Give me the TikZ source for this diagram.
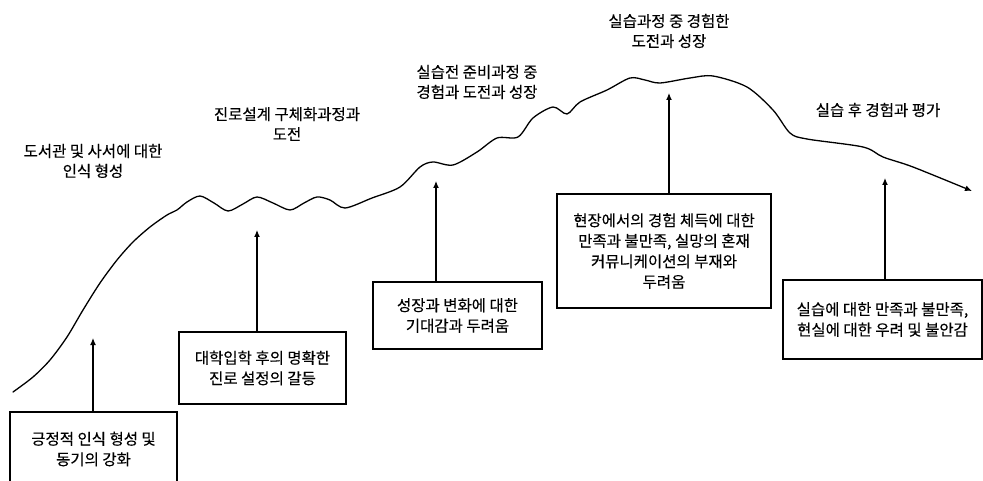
\documentclass[tikz,border=0pt]{standalone}
\usepackage{fontspec}
\setmainfont[BoldFont={Noto Sans CJK KR}, BoldFeatures={FakeBold=0.2}]{Noto Sans CJK KR}
\usetikzlibrary{arrows.meta}
\tikzset{
  box/.style={draw, line width=1.2pt, align=center, inner sep=2pt, font=\fontsize{15.5}{20.5}\selectfont\bfseries},
  lbl/.style={align=center, font=\fontsize{15.5}{20}\selectfont\bfseries},
  conn/.style={line width=1.2pt, -{Latex[length=7pt,width=6pt]}},
  curve/.style={line width=1.3pt, line cap=round, -{Latex[length=7pt,width=6pt]}}
}
\begin{document}
\begin{tikzpicture}[x=1pt,y=-1pt]
\useasboundingbox (0,0) rectangle (983,481);
% curve
\draw[curve] plot[smooth, tension=0.5] coordinates {
(13,392) (33,377) (50,360) (67,337) (83,310) (100,283) (117,260) (133,242) (150,227) (167,215) (177,210) (187,202) (200,196) (214,203) (228,211) (243,204) (257,197) (273,203) (290,210) (304,203) (317,197) (330,200) (345,208) (372,198) (400,187) (420,167) (433,162) (453,165) (477,152) (497,138) (518,137) (533,118) (553,107) (567,114) (580,102) (607,90) (630,78) (645,80) (660,83) (690,78) (713,76) (747,87) (773,110) (790,133) (807,139) (863,147) (883,157) (913,167) (972,191)};
% top labels
\node[lbl] (l1) at (93,161) {도서관 및 사서에 대한\\인식 형성};
\node[lbl] (l2) at (287,124) {진로설계 구체화과정과\\도전};
\node[lbl] (l3) at (477,82) {실습전 준비과정 중\\경험과 도전과 성장};
\node[lbl] (l4) at (669,31) {실습과정 중 경험한\\도전과 성장};
\node[lbl] (l5) at (878,110) {실습 후 경험과 평가};
% boxes
\node[box, minimum width=167pt, minimum height=74pt] (b1) at (93.5,449) {긍정적 인식 형성 및\\동기의 강화};
\node[box, minimum width=167pt, minimum height=72pt] (b2) at (262.5,368) {대학입학 후의 명확한\\진로 설정의 갈등};
\node[box, minimum width=169pt, minimum height=67pt] (b3) at (457.5,315.5) {성장과 변화에 대한\\기대감과 두려움};
\node[box, minimum width=214pt, minimum height=114pt] (b4) at (664,251) {현장에서의 경험 체득에 대한\\만족과 불만족, 실망의 혼재\\커뮤니케이션의 부재와\\두려움};
\node[box, minimum width=199pt, minimum height=79pt] (b5) at (882.5,319.5) {실습에 대한 만족과 불만족,\\현실에 대한 우려 및 불안감};
% arrow tips
\coordinate (t1) at (93,338);
\coordinate (t2) at (257,230);
\coordinate (t3) at (436,181);
\coordinate (t4) at (669,93);
\coordinate (t5) at (885,178);
\draw[conn] (b1.north -| t1) -- (t1);
\draw[conn] (b2.north -| t2) -- (t2);
\draw[conn] (b3.north -| t3) -- (t3);
\draw[conn] (b4.north -| t4) -- (t4);
\draw[conn] (b5.north -| t5) -- (t5);
\end{tikzpicture}
\end{document}
